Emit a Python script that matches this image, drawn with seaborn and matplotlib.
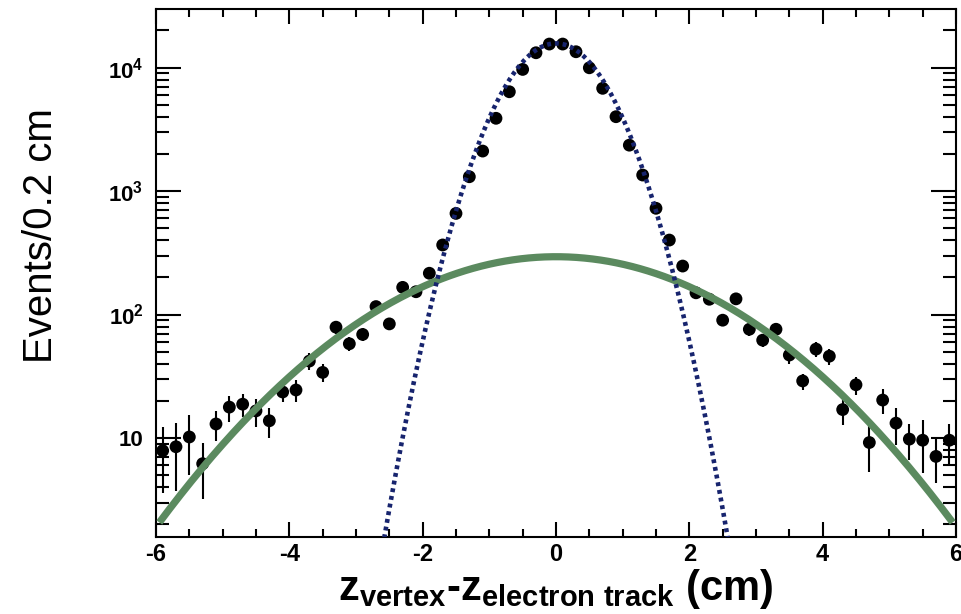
import numpy as np
import pandas as pd
import matplotlib
matplotlib.use("Agg")
import matplotlib.pyplot as plt
import seaborn as sns
from matplotlib.ticker import FixedLocator, FixedFormatter, LogLocator, MultipleLocator, NullFormatter

# ---- data ----
bin_centers = [-5.9, -5.7, -5.5, -5.3, -5.1, -4.9, -4.7, -4.5, -4.3, -4.1,
               -3.9, -3.7, -3.5, -3.3, -3.1, -2.9, -2.7, -2.5, -2.3, -2.1,
               -1.9, -1.7, -1.5, -1.3, -1.1, -0.9, -0.7, -0.5, -0.3, -0.1,
               0.1, 0.3, 0.5, 0.7, 0.9, 1.1, 1.3, 1.5, 1.7, 1.9,
               2.1, 2.3, 2.5, 2.7, 2.9, 3.1, 3.3, 3.5, 3.7, 3.9,
               4.1, 4.3, 4.5, 4.7, 4.9, 5.1, 5.3, 5.5, 5.7, 5.9]
events = [7.9, 8.5, 10.2, 6.2, 13.0, 17.8, 18.8, 16.6, 13.8, 23.6,
          24.5, 42, 34, 79, 58, 69, 116, 84, 166, 153,
          216, 366, 659, 1306, 2108, 3883, 6370, 9660, 13180, 15500,
          15500, 13430, 9960, 6790, 4000, 2353, 1348, 725, 401, 247,
          150, 133, 90, 134, 76, 62, 76, 47, 29, 52.5,
          46, 17, 27, 9.2, 20.3, 13.2, 9.8, 9.6, 7.1, 9.6]
event_errors = [4.3, 4.8, 5.2, 3.0, 3.6, 4.2, 4.0, 4.3, 3.7, 4.0,
                4.8, 6.5, 5.8, 8.9, 7.6, 8.3, 10.8, 9.2, 12.9, 12.4,
                14.7, 19, 26, 36, 46, 62, 80, 98, 115, 124,
                124, 116, 100, 82, 63, 48, 37, 27, 20, 15.7,
                12.2, 11.5, 9.5, 11.6, 8.7, 7.9, 8.7, 6.9, 4.3, 7.2,
                6.8, 4.3, 4.5, 3.9, 4.7, 4.4, 3.1, 4.4, 2.8, 3.4]

# fitted Gaussian components (parameters)
signal_amp, signal_mean, signal_sigma = 15700.0, 0.0, 0.60
bkg_amp, bkg_mean, bkg_sigma = 294.0, 0.0, 1.89
bkg_range = (-5.95, 5.95)

x_ticks = [-6, -4, -2, 0, 2, 4, 6]
x_tick_labels = ["-6", "-4", "-2", "0", "2", "4", "6"]
y_ticks = [10, 100, 1000, 10000]
y_tick_labels = ["10", r"$10^{2}$", r"$10^{3}$", r"$10^{4}$"]
x_label = r"$z_{vertex}$-$z_{electron\ track}$ (cm)"
y_label = "Events/0.2 cm"

# ---- style ----
sns.set_theme(style="ticks")
plt.rcParams["font.family"] = ["Liberation Sans", "DejaVu Sans"]
plt.rcParams.update({
    "mathtext.fontset": "custom",
    "mathtext.rm": "Liberation Sans:bold",
    "mathtext.bf": "Liberation Sans:bold",
    "mathtext.it": "Liberation Sans:bold",
    "mathtext.sf": "Liberation Sans:bold",
    "mathtext.default": "rm",
    "text.color": "black",
    "axes.labelcolor": "black",
    "xtick.color": "black",
    "ytick.color": "black",
})

fig = plt.figure(figsize=(9.61, 6.14), dpi=100)
ax = fig.add_axes([156 / 961, 1 - 537 / 614, 800 / 961, 528 / 614])
ax.set_yscale("log")

df = pd.DataFrame({"z": bin_centers, "n": events, "err": event_errors})

ax.errorbar(df["z"], df["n"], yerr=df["err"], fmt="none", ecolor="black",
            elinewidth=1.5, capsize=0, zorder=2)
sns.scatterplot(data=df, x="z", y="n", ax=ax, color="black", s=85,
                edgecolor="none", linewidth=0, zorder=3, legend=False)

zs = np.linspace(-6.2, 6.2, 1241)
sig = signal_amp * np.exp(-0.5 * ((zs - signal_mean) / signal_sigma) ** 2)
zb = np.linspace(bkg_range[0], bkg_range[1], 600)
bkg = bkg_amp * np.exp(-0.5 * ((zb - bkg_mean) / bkg_sigma) ** 2)

sns.lineplot(x=zb, y=bkg, ax=ax, color="#5b8a5f", linewidth=5.2,
             estimator=None, sort=False, zorder=4)
ax.lines[-1].set_solid_capstyle("butt")
sns.lineplot(x=zs, y=sig, ax=ax, color="#17246e", linewidth=3.3,
             estimator=None, sort=False, zorder=5)
ax.lines[-1].set_dashes([0.85, 0.85])
ax.lines[-1].set_dash_capstyle("butt")

ax.set_xlim(-6, 6)
ax.set_ylim(1.58, 2.98e4)

ax.xaxis.set_major_locator(FixedLocator(x_ticks))
ax.xaxis.set_major_formatter(FixedFormatter(x_tick_labels))
ax.xaxis.set_minor_locator(MultipleLocator(0.5))
ax.yaxis.set_major_locator(FixedLocator(y_ticks))
ax.yaxis.set_major_formatter(FixedFormatter(y_tick_labels))
ax.yaxis.set_minor_locator(LogLocator(base=10, subs=np.arange(2, 10), numticks=30))
ax.yaxis.set_minor_formatter(NullFormatter())

ax.tick_params(which="both", direction="in", top=True, right=True,
               bottom=True, left=True, width=1.5, color="black",
               labelcolor="black")
ax.tick_params(axis="x", which="major", length=11, pad=4)
ax.tick_params(axis="x", which="minor", length=5.5)
ax.tick_params(axis="y", which="major", length=18, pad=9)
ax.tick_params(axis="y", which="minor", length=9.5)
for lab in ax.get_xticklabels():
    lab.set_fontsize(17)
    lab.set_fontweight("bold")
for lab in ax.get_yticklabels():
    lab.set_fontsize(16)
    lab.set_fontweight("bold")

for sp in ax.spines.values():
    sp.set_visible(True)
    sp.set_color("black")
    sp.set_linewidth(1.5)

ax.set_xlabel(x_label, fontsize=30, fontweight="bold", color="black")
ax.xaxis.set_label_coords(0.5, -0.057)
ax.set_ylabel(y_label, fontsize=29, color="black")
ax.yaxis.set_label_coords(-0.12, 0.57)

fig.savefig("out.png", dpi=100, facecolor="white")
